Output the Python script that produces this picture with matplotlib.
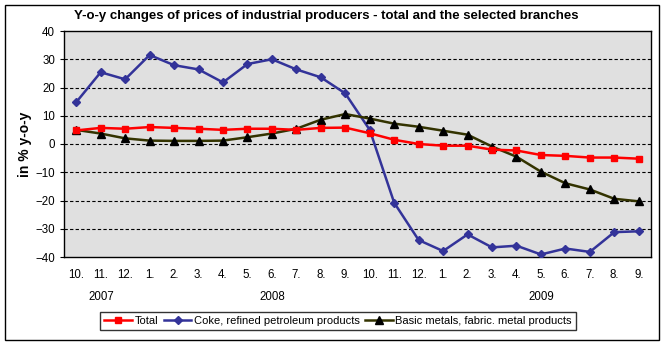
import matplotlib
matplotlib.use("Agg")
import matplotlib.pyplot as plt
from matplotlib.patches import Rectangle

months = ["10.", "11.", "12.", "1.", "2.", "3.", "4.", "5.", "6.", "7.", "8.", "9.",
          "10.", "11.", "12.", "1.", "2.", "3.", "4.", "5.", "6.", "7.", "8.", "9."]
years = ["2007", "2008", "2009"]
year_pos = [1.04, 8.0, 19.0]

total = [4.8, 5.7, 5.4, 6.0, 5.7, 5.4, 5.0, 5.4, 5.4, 5.0, 5.7, 5.8,
         3.8, 1.5, 0.0, -0.6, -0.6, -2.0, -2.3, -3.9, -4.2, -4.8, -4.8, -5.2]
coke = [14.8, 25.4, 22.9, 31.5, 27.9, 26.4, 21.8, 28.3, 30.0, 26.4, 23.6, 17.9,
        5.0, -20.8, -34.0, -37.9, -32.0, -36.6, -36.0, -39.1, -37.0, -38.2, -31.2, -30.9]
metals = [5.0, 3.7, 2.0, 1.2, 1.1, 1.1, 1.2, 2.4, 3.7, 5.4, 8.6, 10.6,
          9.0, 7.2, 6.1, 4.7, 3.3, -0.9, -4.5, -9.8, -13.9, -16.1, -19.4, -20.3]

plt.rcParams['font.family'] = ['Liberation Sans', 'DejaVu Sans']

W, H = 668, 345
fig = plt.figure(figsize=(W / 100, H / 100), dpi=100)
fig.patch.set_facecolor('white')
fig.patches.append(Rectangle((5 / W, 1 - 340 / H), 654 / W, 335 / H, transform=fig.transFigure,
                             fill=False, edgecolor='black', linewidth=1.0))

ax = fig.add_axes([64 / W, 1 - 257 / H, (651 - 64) / W, (257 - 31) / H])
ax.set_facecolor('#E0E0E0')
x = list(range(len(months)))

ax.plot(x, total, color='#FF0000', marker='s', markersize=5, linewidth=1.8, label='Total', zorder=4)
ax.plot(x, coke, color='#333399', marker='D', markersize=4, linewidth=1.8,
        label='Coke, refined petroleum products', zorder=3)
ax.plot(x, metals, color='#333300', marker='^', markersize=6, markerfacecolor='black',
        markeredgecolor='black', linewidth=1.8, label='Basic metals, fabric. metal products', zorder=3)

ax.set_xlim(-0.5, len(months) - 0.5)
ax.set_ylim(-40, 40)
ax.set_yticks(range(-40, 41, 10))
ax.set_xticks(x)
ax.set_xticklabels(months)
ax.tick_params(axis='both', labelsize=8.3, length=3, width=0.8)
ax.tick_params(axis='x', length=0, pad=9)
for v in range(-30, 40, 10):
    ax.axhline(v, color='black', linestyle=(0, (3, 2)), linewidth=0.8, zorder=1)
for s in ax.spines.values():
    s.set_linewidth(1.0)

for yl, yp in zip(years, year_pos):
    ax.text(yp, -54.0, yl, ha='center', va='center', fontsize=8.3)

ax.set_ylabel('in % y-o-y', fontsize=10, fontweight='bold', labelpad=2)
fig.text(326 / W, 1 - 16 / H,
         'Y-o-y changes of prices of industrial producers - total and the selected branches',
         ha='center', va='center', fontsize=9.5, fontweight='bold')

leg = fig.legend(loc='center', bbox_to_anchor=(338 / W, 1 - 321 / H), ncol=3, fontsize=8,
                 frameon=True, fancybox=False, edgecolor='black', handlelength=2.5,
                 handletextpad=0.2, columnspacing=0.5, borderpad=0.4)
leg.get_frame().set_linewidth(1.0)

fig.savefig('out.png', dpi=100)
